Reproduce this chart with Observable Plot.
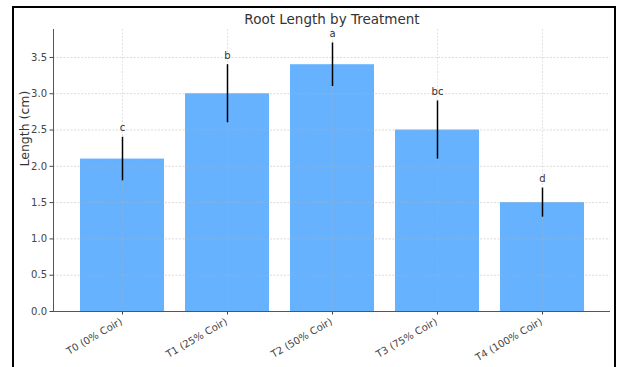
<!DOCTYPE html>
<html>
<head>
<meta charset="utf-8">
<script src="https://cdn.jsdelivr.net/npm/d3@7"></script>
<script src="https://cdn.jsdelivr.net/npm/@observablehq/plot@0.6"></script>
<style>
  html, body { margin: 0; padding: 0; background: #fff; overflow: hidden; }
  #wrap { position: relative; width: 617px; height: 367px; overflow: hidden; }
  #frame { position: absolute; left: 12px; top: 6px; width: 600px; height: 420px; border: 2px solid #000; box-sizing: content-box; pointer-events: none; }
  svg { font-family: "DejaVu Sans", sans-serif; }
</style>
</head>
<body>
<div id="wrap"><div id="frame"></div></div>
<script>
const treatments = ["T0 (0% Coir)", "T1 (25% Coir)", "T2 (50% Coir)", "T3 (75% Coir)", "T4 (100% Coir)"];
const means = [2.1, 3.0, 3.4, 2.5, 1.5];
const errors = [0.3, 0.4, 0.3, 0.4, 0.2];
const letters = ["c", "b", "a", "bc", "d"];
const yTicks = [0, 0.5, 1.0, 1.5, 2.0, 2.5, 3.0, 3.5];
const title = "Root Length by Treatment";
const yLabel = "Length (cm)";

const rows = treatments.map((t, i) => ({t, m: means[i], e: errors[i], lo: means[i] - errors[i], hi: means[i] + errors[i], l: letters[i]}));
const yMax = d3.max(rows, d => d.hi) * 1.05;

const chart = Plot.plot({
  width: 617,
  height: 367,
  marginTop: 29,
  marginLeft: 53,
  marginRight: 7,
  marginBottom: 56,
  style: {fontFamily: "DejaVu Sans, sans-serif", background: "transparent", overflow: "visible"},
  x: {domain: treatments, paddingInner: 0.2, paddingOuter: 0.24, label: null},
  y: {domain: [0, yMax], label: null},
  marks: [
    Plot.barY(rows, {x: "t", y: "m", fill: "#66b2ff"}),
    Plot.gridY(yTicks, {stroke: "#b0b0b0", strokeOpacity: 0.6, strokeDasharray: "2,1.5", strokeWidth: 0.8}),
    Plot.gridX(treatments, {stroke: "#b0b0b0", strokeOpacity: 0.45, strokeDasharray: "2,1.5", strokeWidth: 0.8}),
    Plot.ruleX(rows, {x: "t", y1: "lo", y2: "hi", stroke: "#000", strokeWidth: 1.5}),
    Plot.text(rows, {x: "t", y: "hi", text: "l", lineAnchor: "bottom", dy: -6, fontSize: 10, fill: "#333"}),
    Plot.axisY({ticks: yTicks, tickFormat: d3.format(".1f"), tickSize: 3.5, tickPadding: 3, fontSize: 10, color: "#444", label: null}),
    Plot.axisX({ticks: treatments, tickSize: 3.5, tickFormat: () => "", color: "#444", label: null}),
    Plot.text(treatments, {x: d => d, frameAnchor: "bottom", rotate: -30, textAnchor: "end", lineAnchor: "top", dy: 6, dx: -3, fontSize: 10, fill: "#444"}),
    Plot.text([yLabel], {frameAnchor: "left", rotate: -90, dx: -29, dy: -4, fontSize: 12.5, fill: "#333", lineAnchor: "middle"}),
    Plot.ruleY([0], {stroke: "#555", strokeWidth: 1}),
    Plot.frame({anchor: "left", stroke: "#555", strokeWidth: 1}),
    Plot.text([title], {frameAnchor: "top", dy: -10, fontSize: 13.5, fill: "#333", lineAnchor: "middle"})
  ]
});
document.getElementById("wrap").prepend(chart);
</script>
</body>
</html>
